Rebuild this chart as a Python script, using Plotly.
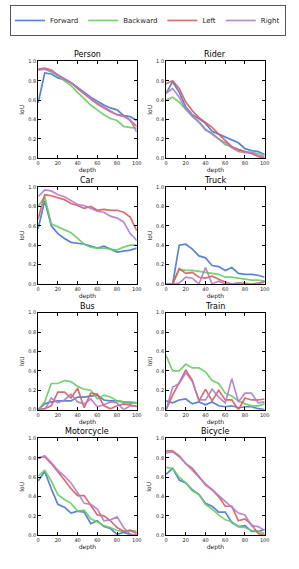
import plotly.graph_objects as go
from plotly.subplots import make_subplots

DEPTH = [0, 6.67, 13.33, 20, 26.67, 33.33, 40, 46.67, 53.33, 60, 66.67, 73.33, 80, 86.67, 93.33, 100]
SERIES = ["Forward", "Backward", "Left", "Right"]
COLORS = ["#4878CF", "#6ACC65", "#D65F5F", "#B47CC7"]
CLASSES = ["Person", "Rider", "Car", "Truck", "Bus", "Train", "Motorcycle", "Bicycle"]

person = [
    [0.57, 0.88, 0.87, 0.83, 0.81, 0.78, 0.73, 0.68, 0.63, 0.59, 0.55, 0.52, 0.50, 0.44, 0.43, 0.39],
    [0.92, 0.92, 0.89, 0.85, 0.80, 0.75, 0.68, 0.61, 0.55, 0.50, 0.45, 0.41, 0.39, 0.33, 0.32, 0.31],
    [0.92, 0.93, 0.91, 0.86, 0.82, 0.78, 0.72, 0.66, 0.61, 0.56, 0.52, 0.48, 0.45, 0.44, 0.39, 0.33],
    [0.91, 0.92, 0.90, 0.86, 0.82, 0.78, 0.73, 0.67, 0.62, 0.57, 0.53, 0.49, 0.45, 0.43, 0.40, 0.27],
]
rider = [
    [0.67, 0.79, 0.68, 0.53, 0.45, 0.41, 0.36, 0.28, 0.25, 0.22, 0.19, 0.16, 0.10, 0.08, 0.07, 0.04],
    [0.60, 0.63, 0.58, 0.50, 0.43, 0.37, 0.29, 0.26, 0.20, 0.14, 0.12, 0.09, 0.07, 0.06, 0.05, 0.04],
    [0.77, 0.80, 0.72, 0.58, 0.49, 0.42, 0.37, 0.32, 0.25, 0.19, 0.12, 0.09, 0.07, 0.05, 0.02, 0.00],
    [0.67, 0.72, 0.63, 0.51, 0.44, 0.38, 0.30, 0.25, 0.20, 0.16, 0.11, 0.07, 0.06, 0.06, 0.03, 0.02],
]
car = [
    [0.57, 0.86, 0.60, 0.52, 0.47, 0.43, 0.42, 0.41, 0.39, 0.37, 0.39, 0.36, 0.33, 0.34, 0.35, 0.37],
    [0.80, 0.90, 0.62, 0.59, 0.56, 0.53, 0.47, 0.41, 0.38, 0.37, 0.37, 0.36, 0.35, 0.38, 0.40, 0.40],
    [0.67, 0.92, 0.91, 0.89, 0.87, 0.83, 0.81, 0.78, 0.80, 0.76, 0.77, 0.76, 0.76, 0.74, 0.69, 0.55],
    [0.90, 0.97, 0.96, 0.92, 0.90, 0.86, 0.82, 0.81, 0.78, 0.75, 0.74, 0.70, 0.68, 0.64, 0.52, 0.45],
]
truck = [
    [0.00, 0.00, 0.40, 0.41, 0.36, 0.29, 0.27, 0.19, 0.18, 0.14, 0.17, 0.11, 0.10, 0.10, 0.09, 0.07],
    [0.00, 0.00, 0.15, 0.14, 0.14, 0.13, 0.12, 0.11, 0.10, 0.07, 0.07, 0.06, 0.05, 0.04, 0.04, 0.03],
    [0.00, 0.00, 0.16, 0.11, 0.12, 0.07, 0.06, 0.08, 0.05, 0.02, 0.00, 0.01, 0.01, 0.00, 0.01, 0.02],
    [0.00, 0.00, 0.01, 0.07, 0.06, 0.00, 0.17, 0.00, 0.03, 0.00, 0.00, 0.01, 0.00, 0.00, 0.00, 0.03],
]
bus = [
    [0.00, 0.06, 0.08, 0.09, 0.09, 0.09, 0.13, 0.13, 0.14, 0.15, 0.10, 0.09, 0.09, 0.08, 0.07, 0.07],
    [0.00, 0.08, 0.27, 0.27, 0.30, 0.29, 0.24, 0.21, 0.20, 0.11, 0.15, 0.13, 0.09, 0.08, 0.08, 0.07],
    [0.00, 0.01, 0.04, 0.18, 0.18, 0.12, 0.22, 0.02, 0.17, 0.16, 0.04, 0.01, 0.04, 0.06, 0.05, 0.03],
    [0.00, 0.00, 0.12, 0.07, 0.10, 0.16, 0.08, 0.06, 0.11, 0.03, 0.05, 0.08, 0.07, 0.00, 0.04, 0.04],
]
train = [
    [0.09, 0.07, 0.10, 0.11, 0.06, 0.08, 0.05, 0.08, 0.04, 0.03, 0.04, 0.02, 0.03, 0.03, 0.01, 0.00],
    [0.56, 0.40, 0.40, 0.47, 0.43, 0.43, 0.39, 0.30, 0.27, 0.17, 0.14, 0.09, 0.06, 0.04, 0.04, 0.06],
    [0.00, 0.15, 0.28, 0.41, 0.30, 0.09, 0.21, 0.09, 0.20, 0.10, 0.10, 0.00, 0.12, 0.10, 0.10, 0.11],
    [0.00, 0.23, 0.27, 0.38, 0.29, 0.10, 0.10, 0.21, 0.13, 0.07, 0.32, 0.08, 0.17, 0.17, 0.07, 0.08],
]
motorcycle = [
    [0.56, 0.66, 0.48, 0.32, 0.29, 0.23, 0.25, 0.24, 0.12, 0.15, 0.09, 0.07, 0.01, 0.03, 0.01, 0.00],
    [0.61, 0.67, 0.56, 0.42, 0.37, 0.33, 0.25, 0.26, 0.17, 0.14, 0.10, 0.08, 0.05, 0.04, 0.05, 0.04],
    [0.80, 0.81, 0.74, 0.66, 0.57, 0.48, 0.41, 0.41, 0.31, 0.21, 0.20, 0.15, 0.08, 0.04, 0.05, 0.02],
    [0.79, 0.82, 0.75, 0.67, 0.61, 0.54, 0.44, 0.33, 0.32, 0.27, 0.15, 0.16, 0.19, 0.08, 0.01, 0.00],
]
bicycle = [
    [0.63, 0.69, 0.57, 0.54, 0.47, 0.42, 0.33, 0.30, 0.24, 0.24, 0.13, 0.09, 0.10, 0.04, 0.04, 0.06],
    [0.70, 0.69, 0.60, 0.54, 0.46, 0.42, 0.32, 0.27, 0.21, 0.16, 0.14, 0.09, 0.08, 0.05, 0.04, 0.02],
    [0.87, 0.87, 0.82, 0.74, 0.69, 0.60, 0.52, 0.47, 0.40, 0.30, 0.30, 0.15, 0.17, 0.11, 0.02, 0.00],
    [0.85, 0.86, 0.81, 0.74, 0.66, 0.60, 0.53, 0.47, 0.41, 0.35, 0.29, 0.23, 0.21, 0.10, 0.09, 0.05],
]
DATA = [person, rider, car, truck, bus, train, motorcycle, bicycle]

X_TICKS = [0, 20, 40, 60, 80, 100]
Y_TICKS = [0.0, 0.2, 0.4, 0.6, 0.8, 1.0]
Y_TICK_TEXT = ["0.0", "0.2", "0.4", "0.6", "0.8", "1.0"]

W, H = 299, 569
COL_PX = [(37, 138), (168, 269)]
ROW_PX = [(59, 157), (186, 284), (313, 411), (440, 538)]
FONT = "DejaVu Sans"

fig = make_subplots(rows=4, cols=2)

for k, (name, series) in enumerate(zip(CLASSES, DATA)):
    r, c = k // 2 + 1, k % 2 + 1
    for j, (s, col) in enumerate(zip(SERIES, COLORS)):
        fig.add_trace(go.Scatter(
            x=DEPTH, y=series[j], mode="lines", name=s,
            line=dict(color=col, width=1.7), opacity=0.9,
            showlegend=(k == 0), legendgroup=s,
        ), row=r, col=c)
    x0, x1 = COL_PX[c - 1]
    y0, y1 = ROW_PX[r - 1]
    xd = [x0 / W, x1 / W]
    yd = [1 - y1 / H, 1 - y0 / H]
    axis_common = dict(showgrid=False, zeroline=False, showline=True, linecolor="black",
                       linewidth=1, mirror="allticks", ticks="inside", ticklen=3,
                       tickcolor="black", tickfont=dict(size=5, family=FONT, color="#222"))
    fig.update_xaxes(domain=xd, range=[0, 100], tickvals=X_TICKS,
                     title=dict(text="depth", font=dict(size=6, family=FONT, color="#222"), standoff=2),
                     row=r, col=c, **axis_common)
    fig.update_yaxes(domain=yd, range=[0, 1], tickvals=Y_TICKS, ticktext=Y_TICK_TEXT,
                     title=dict(text="IoU", font=dict(size=6, family=FONT, color="#222"), standoff=3),
                     row=r, col=c, **axis_common)
    fig.add_annotation(text=name, x=(xd[0] + xd[1]) / 2, y=yd[1], xref="paper", yref="paper",
                       xanchor="center", yanchor="bottom", yshift=0, showarrow=False,
                       font=dict(size=8, family=FONT, color="black"))

fig.update_layout(
    width=W, height=H, margin=dict(l=0, r=0, t=0, b=0),
    paper_bgcolor="white", plot_bgcolor="white",
    font=dict(family=FONT),
    legend=dict(orientation="h", x=0.5, xanchor="center", y=1 - 2 / H, yanchor="top",
                font=dict(size=7, family=FONT, color="#222"),
                bordercolor="#555", borderwidth=1, itemwidth=30,
                tracegroupgap=0),
)

fig.write_html("out.html", config={"displayModeBar": False},
               post_script="document.body.style.margin='0';document.body.style.padding='0';")
